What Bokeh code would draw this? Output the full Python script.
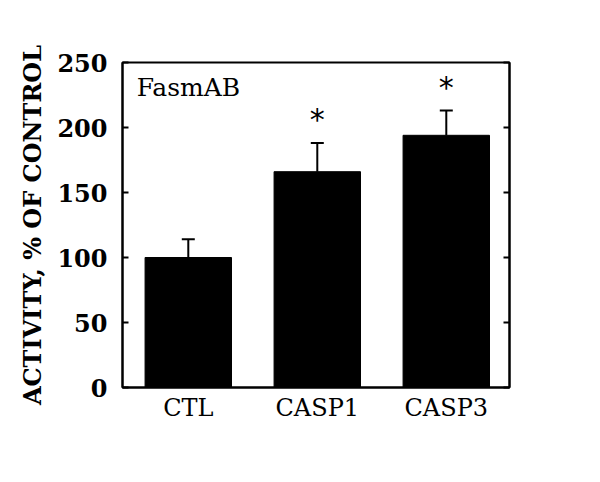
from bokeh.plotting import figure
from bokeh.models import LinearAxis, Range1d, FixedTicker, Label, Whisker, TeeHead, ColumnDataSource
from bokeh.core.properties import value
from bokeh.embed import file_html
from bokeh.resources import INLINE

categories = ["CTL", "CASP1", "CASP3"]
means = [100, 166, 194]
err_top = [114, 188, 213]
stars = ["", "*", "*"]
y_ticks = [0, 50, 100, 150, 200, 250]

FONT = "DejaVu Serif"
xs = list(range(len(categories)))

p = figure(width=592, height=474, output_backend="svg", toolbar_location=None,
           x_range=Range1d(-0.51, 2.49), y_range=Range1d(0, 250),
           min_border_left=122, min_border_right=83, min_border_top=62, min_border_bottom=87,
           frame_width=387, frame_height=325)
p.grid.visible = False
p.background_fill_color = "white"
p.outline_line_color = "black"
p.outline_line_width = 2

src = ColumnDataSource(dict(x=xs, top=means, up=err_top))
p.vbar(x="x", top="top", width=0.67, bottom=0, source=src, fill_color="black", line_color="black")
p.segment(x0="x", y0="top", x1="x", y1="up", source=src, line_color="black", line_width=2)
p.add_layout(Whisker(base="x", upper="up", lower="up", source=src, dimension="height",
                     line_width=2, line_color="black",
                     upper_head=TeeHead(size=13, line_width=2, line_color="black"),
                     lower_head=None))

star_src = ColumnDataSource(dict(
    x=[x for x, s in zip(xs, stars) if s],
    y=[u + 18 for u, s in zip(err_top, stars) if s],
    t=[s for s in stars if s]))
p.text(x="x", y="y", text="t", source=star_src, text_align="center", text_baseline="middle",
       text_font=value("DejaVu Sans"), text_font_size="30px", text_color="black")

p.add_layout(Label(x=-0.40, y=231, text="FasmAB", text_font=FONT, text_font_size="25px",
                   text_baseline="middle", text_color="black"))

# axes
yl = p.yaxis[0]
yl.ticker = FixedTicker(ticks=y_ticks)
yl.axis_label = "ACTIVITY, % OF CONTROL"
yl.axis_label_text_font = FONT
yl.axis_label_text_font_style = "bold"
yl.axis_label_text_font_size = "24px"
yl.axis_label_text_color = "black"
yl.axis_label_standoff = 7
yl.major_label_text_font = FONT
yl.major_label_text_font_style = "bold"
yl.major_label_text_font_size = "24px"
yl.major_label_text_color = "black"
yl.major_label_standoff = 15
yl.major_tick_in = 6
yl.major_tick_out = 0
yl.minor_tick_line_color = None
yl.axis_line_width = 2
yl.major_tick_line_width = 2

yr = LinearAxis(ticker=FixedTicker(ticks=y_ticks))
yr.major_label_text_color = None
yr.major_tick_in = 6
yr.major_tick_out = 0
yr.minor_tick_line_color = None
yr.axis_line_width = 2
yr.major_tick_line_width = 2
p.add_layout(yr, "right")

xa = p.xaxis[0]
xa.ticker = FixedTicker(ticks=xs)
xa.major_label_overrides = {i: c for i, c in enumerate(categories)}
xa.major_label_text_font = FONT
xa.major_label_text_font_size = "24px"
xa.major_label_text_color = "black"
xa.major_label_standoff = 0
xa.major_tick_line_color = None
xa.minor_tick_line_color = None
xa.axis_line_width = 2

open("out.html", "w").write(file_html(p, INLINE))
